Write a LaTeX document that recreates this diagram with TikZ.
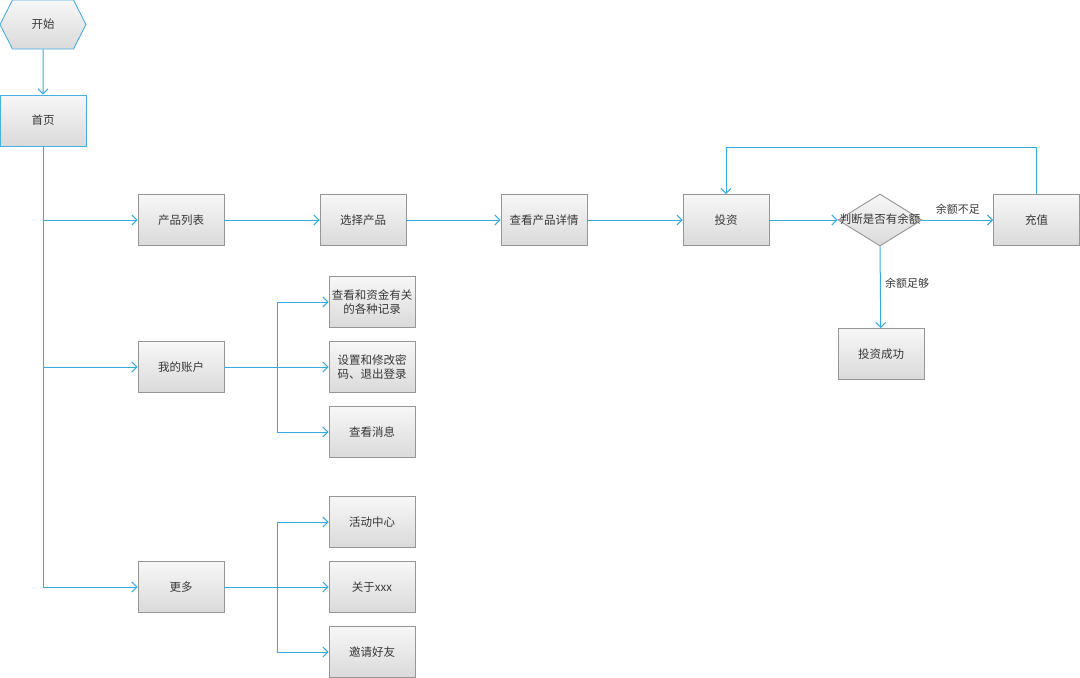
\documentclass[tikz,border=0pt]{standalone}
\usepackage{fontspec}
\setmainfont{Noto Sans CJK SC}
\usetikzlibrary{arrows.meta,shapes.geometric,shapes.symbols}
\definecolor{LineBlue}{RGB}{52, 170, 226}
\definecolor{EdgeBlue}{RGB}{70, 176, 228}
\definecolor{BoxGray}{RGB}{150, 150, 150}
\definecolor{TextGray}{RGB}{55, 55, 55}
\definecolor{FillTop}{RGB}{247, 247, 247}
\definecolor{FillBot}{RGB}{218, 218, 218}

\begin{document}
\begin{tikzpicture}[x=1pt, y=-1pt,
        every node/.style={font=\fontsize{11.5}{14.5}\selectfont, text=TextGray},
        box/.style={draw=BoxGray, line width=0.9pt, top color=FillTop, bottom color=FillBot, align=center, minimum width=86pt, minimum height=51pt, inner sep=2pt},
        arr/.style={-{Straight Barb[length=5pt, width=10pt]}, line width=1pt, color=LineBlue},
        lbl/.style={font=\fontsize{11}{13}\selectfont}]
        \useasboundingbox (0,0) rectangle (1080,678);

        \node[signal, signal to=east and west, signal pointer angle=126, draw=EdgeBlue, line width=0.9pt, top color=FillTop, bottom color=FillBot, minimum width=86pt, minimum height=49pt, inner sep=0pt] (start) at (43,24.5) {开始};
        \node[box, draw=EdgeBlue] (home) at (43,120.5) {首页};

        \node[box] (plist) at (181,220) {产品列表};
        \node[box] (pick) at (363,220) {选择产品};
        \node[box] (detail) at (544,220) {查看产品详情};
        \node[box] (invest) at (726,220) {投资};
        \node[diamond, draw=BoxGray, line width=0.9pt, top color=FillTop, bottom color=FillBot, minimum width=84pt, minimum height=52pt, inner sep=0pt] (check) at (880,220) {};
        \node (checktext) at (880,219) {判断是否有余额};
        \node[box] (topup) at (1036.5,220) {充值};
        \node[box] (done) at (881,354) {投资成功};

        \node[box] (acct) at (181,367) {我的账户};
        \node[box] (record) at (372,302) {查看和资金有关\\的各种记录};
        \node[box] (passwd) at (372,367) {设置和修改密\\码、退出登录};
        \node[box] (msg) at (372,432) {查看消息};

        \node[box] (more) at (181,587) {更多};
        \node[box] (event) at (372,522) {活动中心};
        \node[box] (about) at (372,587) {关于xxx};
        \node[box] (invite) at (372,652) {邀请好友};

        \coordinate (acctfork) at (277,367);
        \coordinate (morefork) at (277,587);

        \draw[arr] (start) -- (home);
        \draw[arr] (home.south) |- (plist.west);
        \draw[arr] (home.south) |- (acct.west);
        \draw[arr] (home.south) |- (more.west);

        \draw[arr] (plist) -- (pick);
        \draw[arr] (pick) -- (detail);
        \draw[arr] (detail) -- (invest);
        \draw[arr] (invest) -- (check.west);
        \draw[arr] (check.east) -- node[lbl, above=2pt] (short) {余额不足} (topup);
        \draw[arr] (check.south) -- node[lbl, right=1pt, pos=0.45] (enough) {余额足够} (done);
        \draw[arr] (topup.north) -- ++(0,-47) -| (invest.north);

        \draw[arr] (acct) -- (passwd);
        \draw[arr] (acctfork) |- (record.west);
        \draw[arr] (acctfork) |- (msg.west);

        \draw[arr] (more) -- (about);
        \draw[arr] (morefork) |- (event.west);
        \draw[arr] (morefork) |- (invite.west);
      \end{tikzpicture}
\end{document}
